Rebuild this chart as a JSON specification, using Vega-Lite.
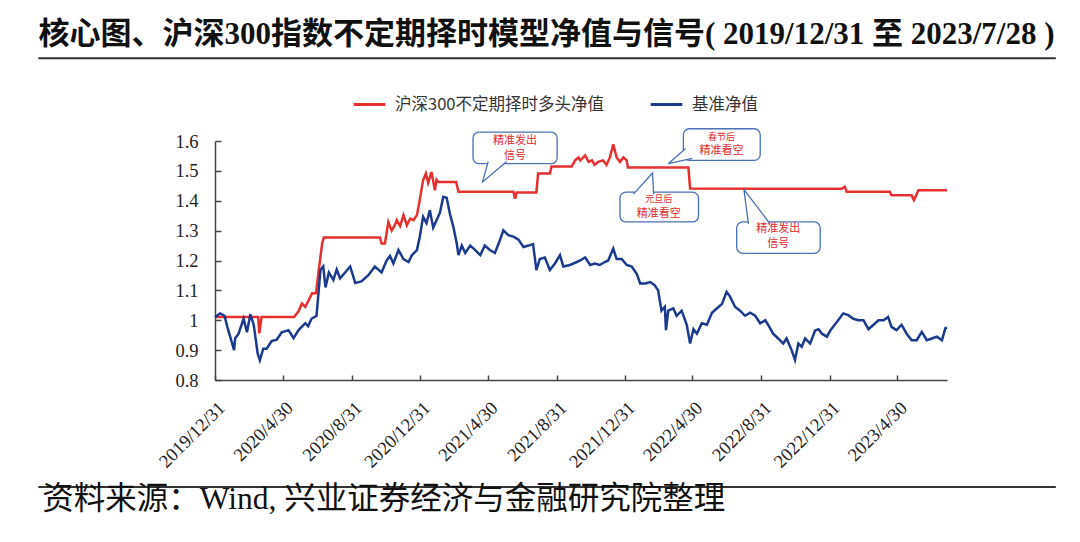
{
  "$schema": "https://vega.github.io/schema/vega-lite/v6.json",
  "width": 732,
  "height": 239,
  "autosize": {"type": "none"},
  "padding": {"left": 215, "top": 141, "right": 133, "bottom": 162},
  "background": "white",
  "config": {
    "view": {"stroke": null},
    "font": "Liberation Serif",
    "axisY": {"tickCount": 9, "labelOverlap": false, "format": "~g", "labelFont": "Liberation Serif", "labelFontSize": 18.5, "labelColor": "#222", "labelPadding": 23, "domainColor": "#444", "domainWidth": 1.5, "tickColor": "#444", "tickWidth": 1.5, "tickSize": -6, "grid": false, "title": null},
    "axisX": {"labelOverlap": false, "labelFont": "Liberation Serif", "labelFontSize": 18.5, "labelColor": "#222", "labelPadding": 23, "labelAngle": -45, "labelFlush": false, "domainColor": "#444", "domainWidth": 1.5, "tickColor": "#444", "tickWidth": 1.5, "tickSize": -5, "grid": false, "title": null}
  },
  "datasets": {
    "lines": [
      {"s":"m","d":"2019-12-31","v":1.011},{"s":"m","d":"2020-03-17","v":1.011},{"s":"m","d":"2020-03-19","v":0.956},{"s":"m","d":"2020-03-23","v":1.011},{"s":"m","d":"2020-05-20","v":1.011},{"s":"m","d":"2020-05-28","v":1.03},{"s":"m","d":"2020-06-03","v":1.056},{"s":"m","d":"2020-06-09","v":1.045},{"s":"m","d":"2020-06-15","v":1.067},{"s":"m","d":"2020-06-21","v":1.09},{"s":"m","d":"2020-06-28","v":1.09},{"s":"m","d":"2020-07-03","v":1.168},{"s":"m","d":"2020-07-09","v":1.257},{"s":"m","d":"2020-07-12","v":1.277},{"s":"m","d":"2020-10-20","v":1.277},{"s":"m","d":"2020-10-23","v":1.257},{"s":"m","d":"2020-10-29","v":1.257},{"s":"m","d":"2020-11-04","v":1.329},{"s":"m","d":"2020-11-10","v":1.30},{"s":"m","d":"2020-11-16","v":1.32},{"s":"m","d":"2020-11-19","v":1.335},{"s":"m","d":"2020-11-25","v":1.315},{"s":"m","d":"2020-12-01","v":1.352},{"s":"m","d":"2020-12-07","v":1.318},{"s":"m","d":"2020-12-13","v":1.34},{"s":"m","d":"2020-12-19","v":1.335},{"s":"m","d":"2020-12-25","v":1.352},{"s":"m","d":"2020-12-30","v":1.402},{"s":"m","d":"2021-01-05","v":1.469},{"s":"m","d":"2021-01-10","v":1.491},{"s":"m","d":"2021-01-14","v":1.46},{"s":"m","d":"2021-01-20","v":1.496},{"s":"m","d":"2021-01-26","v":1.435},{"s":"m","d":"2021-01-29","v":1.47},{"s":"m","d":"2021-02-01","v":1.463},{"s":"m","d":"2021-03-05","v":1.463},{"s":"m","d":"2021-03-09","v":1.43},{"s":"m","d":"2021-06-15","v":1.43},{"s":"m","d":"2021-06-18","v":1.407},{"s":"m","d":"2021-06-21","v":1.428},{"s":"m","d":"2021-07-26","v":1.428},{"s":"m","d":"2021-07-29","v":1.491},{"s":"m","d":"2021-08-19","v":1.491},{"s":"m","d":"2021-08-22","v":1.515},{"s":"m","d":"2021-09-27","v":1.515},{"s":"m","d":"2021-10-03","v":1.535},{"s":"m","d":"2021-10-09","v":1.545},{"s":"m","d":"2021-10-12","v":1.535},{"s":"m","d":"2021-10-15","v":1.54},{"s":"m","d":"2021-10-21","v":1.552},{"s":"m","d":"2021-10-27","v":1.53},{"s":"m","d":"2021-11-02","v":1.535},{"s":"m","d":"2021-11-07","v":1.52},{"s":"m","d":"2021-11-13","v":1.53},{"s":"m","d":"2021-11-22","v":1.535},{"s":"m","d":"2021-11-28","v":1.52},{"s":"m","d":"2021-12-04","v":1.545},{"s":"m","d":"2021-12-10","v":1.589},{"s":"m","d":"2021-12-16","v":1.545},{"s":"m","d":"2021-12-22","v":1.53},{"s":"m","d":"2021-12-28","v":1.545},{"s":"m","d":"2022-01-03","v":1.535},{"s":"m","d":"2022-01-05","v":1.511},{"s":"m","d":"2022-04-23","v":1.511},{"s":"m","d":"2022-04-26","v":1.441},{"s":"m","d":"2023-01-21","v":1.44},{"s":"m","d":"2023-01-27","v":1.447},{"s":"m","d":"2023-01-30","v":1.43},{"s":"m","d":"2023-04-17","v":1.43},{"s":"m","d":"2023-04-20","v":1.418},{"s":"m","d":"2023-05-26","v":1.418},{"s":"m","d":"2023-05-30","v":1.402},{"s":"m","d":"2023-06-03","v":1.418},{"s":"m","d":"2023-06-07","v":1.435},{"s":"m","d":"2023-07-28","v":1.435},
      {"s":"b","d":"2019-12-31","v":1.01},{"s":"b","d":"2020-01-09","v":1.023},{"s":"b","d":"2020-01-17","v":1.015},{"s":"b","d":"2020-01-22","v":0.978},{"s":"b","d":"2020-02-03","v":0.90},{"s":"b","d":"2020-02-05","v":0.94},{"s":"b","d":"2020-02-11","v":0.955},{"s":"b","d":"2020-02-20","v":1.005},{"s":"b","d":"2020-02-26","v":0.96},{"s":"b","d":"2020-03-03","v":1.02},{"s":"b","d":"2020-03-09","v":0.985},{"s":"b","d":"2020-03-16","v":0.89},{"s":"b","d":"2020-03-20","v":0.866},{"s":"b","d":"2020-03-26","v":0.905},{"s":"b","d":"2020-04-01","v":0.905},{"s":"b","d":"2020-04-10","v":0.93},{"s":"b","d":"2020-04-19","v":0.935},{"s":"b","d":"2020-04-28","v":0.96},{"s":"b","d":"2020-05-10","v":0.967},{"s":"b","d":"2020-05-19","v":0.94},{"s":"b","d":"2020-05-28","v":0.967},{"s":"b","d":"2020-06-09","v":0.99},{"s":"b","d":"2020-06-14","v":0.98},{"s":"b","d":"2020-06-20","v":1.005},{"s":"b","d":"2020-06-29","v":1.015},{"s":"b","d":"2020-07-06","v":1.168},{"s":"b","d":"2020-07-11","v":1.18},{"s":"b","d":"2020-07-15","v":1.11},{"s":"b","d":"2020-07-21","v":1.16},{"s":"b","d":"2020-07-29","v":1.135},{"s":"b","d":"2020-08-04","v":1.17},{"s":"b","d":"2020-08-10","v":1.14},{"s":"b","d":"2020-08-19","v":1.16},{"s":"b","d":"2020-08-28","v":1.18},{"s":"b","d":"2020-09-06","v":1.125},{"s":"b","d":"2020-09-17","v":1.13},{"s":"b","d":"2020-09-29","v":1.15},{"s":"b","d":"2020-10-11","v":1.18},{"s":"b","d":"2020-10-23","v":1.16},{"s":"b","d":"2020-11-01","v":1.20},{"s":"b","d":"2020-11-07","v":1.215},{"s":"b","d":"2020-11-13","v":1.19},{"s":"b","d":"2020-11-22","v":1.235},{"s":"b","d":"2020-12-01","v":1.205},{"s":"b","d":"2020-12-10","v":1.195},{"s":"b","d":"2020-12-16","v":1.218},{"s":"b","d":"2020-12-25","v":1.235},{"s":"b","d":"2020-12-30","v":1.279},{"s":"b","d":"2021-01-05","v":1.346},{"s":"b","d":"2021-01-11","v":1.325},{"s":"b","d":"2021-01-17","v":1.368},{"s":"b","d":"2021-01-23","v":1.31},{"s":"b","d":"2021-01-29","v":1.335},{"s":"b","d":"2021-02-04","v":1.36},{"s":"b","d":"2021-02-10","v":1.413},{"s":"b","d":"2021-02-16","v":1.41},{"s":"b","d":"2021-02-22","v":1.355},{"s":"b","d":"2021-02-28","v":1.312},{"s":"b","d":"2021-03-06","v":1.257},{"s":"b","d":"2021-03-09","v":1.218},{"s":"b","d":"2021-03-15","v":1.25},{"s":"b","d":"2021-03-21","v":1.225},{"s":"b","d":"2021-03-30","v":1.25},{"s":"b","d":"2021-04-08","v":1.235},{"s":"b","d":"2021-04-17","v":1.218},{"s":"b","d":"2021-04-25","v":1.25},{"s":"b","d":"2021-05-04","v":1.235},{"s":"b","d":"2021-05-13","v":1.225},{"s":"b","d":"2021-05-22","v":1.268},{"s":"b","d":"2021-05-28","v":1.301},{"s":"b","d":"2021-06-06","v":1.285},{"s":"b","d":"2021-06-15","v":1.28},{"s":"b","d":"2021-06-24","v":1.27},{"s":"b","d":"2021-07-03","v":1.245},{"s":"b","d":"2021-07-12","v":1.25},{"s":"b","d":"2021-07-20","v":1.255},{"s":"b","d":"2021-07-26","v":1.168},{"s":"b","d":"2021-08-01","v":1.205},{"s":"b","d":"2021-08-10","v":1.21},{"s":"b","d":"2021-08-19","v":1.168},{"s":"b","d":"2021-08-28","v":1.19},{"s":"b","d":"2021-09-06","v":1.218},{"s":"b","d":"2021-09-12","v":1.18},{"s":"b","d":"2021-09-24","v":1.185},{"s":"b","d":"2021-10-06","v":1.195},{"s":"b","d":"2021-10-12","v":1.2},{"s":"b","d":"2021-10-21","v":1.21},{"s":"b","d":"2021-10-30","v":1.185},{"s":"b","d":"2021-11-07","v":1.19},{"s":"b","d":"2021-11-16","v":1.185},{"s":"b","d":"2021-11-25","v":1.195},{"s":"b","d":"2021-12-01","v":1.2},{"s":"b","d":"2021-12-10","v":1.24},{"s":"b","d":"2021-12-16","v":1.205},{"s":"b","d":"2021-12-25","v":1.205},{"s":"b","d":"2022-01-03","v":1.185},{"s":"b","d":"2022-01-12","v":1.18},{"s":"b","d":"2022-01-21","v":1.155},{"s":"b","d":"2022-01-27","v":1.123},{"s":"b","d":"2022-02-05","v":1.123},{"s":"b","d":"2022-02-14","v":1.128},{"s":"b","d":"2022-02-22","v":1.117},{"s":"b","d":"2022-02-28","v":1.1},{"s":"b","d":"2022-03-06","v":1.032},{"s":"b","d":"2022-03-12","v":1.045},{"s":"b","d":"2022-03-14","v":0.967},{"s":"b","d":"2022-03-18","v":1.032},{"s":"b","d":"2022-03-27","v":1.04},{"s":"b","d":"2022-04-02","v":1.015},{"s":"b","d":"2022-04-11","v":1.032},{"s":"b","d":"2022-04-20","v":0.985},{"s":"b","d":"2022-04-26","v":0.922},{"s":"b","d":"2022-05-02","v":0.97},{"s":"b","d":"2022-05-08","v":0.955},{"s":"b","d":"2022-05-17","v":0.99},{"s":"b","d":"2022-05-26","v":0.985},{"s":"b","d":"2022-06-04","v":1.025},{"s":"b","d":"2022-06-13","v":1.04},{"s":"b","d":"2022-06-22","v":1.055},{"s":"b","d":"2022-06-30","v":1.095},{"s":"b","d":"2022-07-06","v":1.08},{"s":"b","d":"2022-07-15","v":1.045},{"s":"b","d":"2022-07-24","v":1.032},{"s":"b","d":"2022-08-02","v":1.015},{"s":"b","d":"2022-08-11","v":1.025},{"s":"b","d":"2022-08-20","v":1.015},{"s":"b","d":"2022-08-29","v":0.99},{"s":"b","d":"2022-09-07","v":1.0},{"s":"b","d":"2022-09-12","v":0.985},{"s":"b","d":"2022-09-21","v":0.955},{"s":"b","d":"2022-09-30","v":0.939},{"s":"b","d":"2022-10-09","v":0.922},{"s":"b","d":"2022-10-15","v":0.939},{"s":"b","d":"2022-10-24","v":0.90},{"s":"b","d":"2022-10-30","v":0.867},{"s":"b","d":"2022-11-05","v":0.922},{"s":"b","d":"2022-11-11","v":0.911},{"s":"b","d":"2022-11-17","v":0.939},{"s":"b","d":"2022-11-26","v":0.922},{"s":"b","d":"2022-12-05","v":0.966},{"s":"b","d":"2022-12-11","v":0.97},{"s":"b","d":"2022-12-17","v":0.955},{"s":"b","d":"2022-12-26","v":0.945},{"s":"b","d":"2023-01-01","v":0.966},{"s":"b","d":"2023-01-06","v":0.978},{"s":"b","d":"2023-01-15","v":1.0},{"s":"b","d":"2023-01-24","v":1.023},{"s":"b","d":"2023-02-02","v":1.017},{"s":"b","d":"2023-02-11","v":1.005},{"s":"b","d":"2023-02-20","v":1.0},{"s":"b","d":"2023-03-01","v":1.0},{"s":"b","d":"2023-03-10","v":0.97},{"s":"b","d":"2023-03-19","v":0.985},{"s":"b","d":"2023-03-28","v":1.0},{"s":"b","d":"2023-04-06","v":1.0},{"s":"b","d":"2023-04-14","v":1.011},{"s":"b","d":"2023-04-20","v":0.978},{"s":"b","d":"2023-04-29","v":0.967},{"s":"b","d":"2023-05-08","v":0.985},{"s":"b","d":"2023-05-17","v":0.955},{"s":"b","d":"2023-05-26","v":0.933},{"s":"b","d":"2023-06-04","v":0.933},{"s":"b","d":"2023-06-13","v":0.961},{"s":"b","d":"2023-06-22","v":0.933},{"s":"b","d":"2023-07-01","v":0.939},{"s":"b","d":"2023-07-10","v":0.945},{"s":"b","d":"2023-07-19","v":0.933},{"s":"b","d":"2023-07-25","v":0.973},{"s":"b","d":"2023-07-28","v":0.975}
    ],
    "boxes": [
      {"x1":"2021-04-04","x2":"2021-09-01","y1":1.524,"y2":1.630},
      {"x1":"2022-04-14","x2":"2022-08-29","y1":1.535,"y2":1.641},
      {"x1":"2021-12-22","x2":"2022-05-11","y1":1.329,"y2":1.429},
      {"x1":"2022-07-18","x2":"2022-12-14","y1":1.224,"y2":1.329}
    ],
    "ptr": [
      {"g":1,"o":1,"d":"2021-05-01","v":1.531},{"g":1,"o":2,"d":"2021-04-21","v":1.463},{"g":1,"o":3,"d":"2021-06-03","v":1.531},
      {"g":2,"o":1,"d":"2022-04-18","v":1.575},{"g":2,"o":2,"d":"2022-03-18","v":1.524},{"g":2,"o":3,"d":"2022-04-30","v":1.542},
      {"g":3,"o":1,"d":"2022-01-15","v":1.422},{"g":3,"o":2,"d":"2022-02-18","v":1.493},{"g":3,"o":3,"d":"2022-02-20","v":1.422},
      {"g":4,"o":1,"d":"2022-08-08","v":1.322},{"g":4,"o":2,"d":"2022-07-31","v":1.4375},{"g":4,"o":3,"d":"2022-09-16","v":1.322}
    ],
    "notes": [
      {"b":1,"l":1,"d":"2021-06-18","v":1.599,"t":"精准发出"},
      {"b":1,"l":2,"d":"2021-06-18","v":1.549,"t":"信号"},
      {"b":2,"l":1,"d":"2022-06-21","v":1.613,"t":"春节后"},
      {"b":2,"l":2,"d":"2022-06-21","v":1.566,"t":"精准看空"},
      {"b":3,"l":1,"d":"2022-03-01","v":1.405,"t":"元旦后"},
      {"b":3,"l":2,"d":"2022-03-01","v":1.355,"t":"精准看空"},
      {"b":4,"l":1,"d":"2022-09-30","v":1.305,"t":"精准发出"},
      {"b":4,"l":2,"d":"2022-09-30","v":1.255,"t":"信号"}
    ]
  },
  "layer": [
    {
      "data": {"name": "lines"},
      "mark": {"type": "line", "strokeWidth": 2.5},
      "encoding": {
        "x": {
          "field": "d", "type": "temporal",
          "scale": {"type": "utc", "domain": [{"year":2019,"month":12,"date":31,"utc":true},{"year":2023,"month":7,"date":28,"utc":true}]},
          "axis": {
            "title": null,
            "values": [
              {"year":2019,"month":12,"date":31,"utc":true},{"year":2020,"month":4,"date":30,"utc":true},{"year":2020,"month":8,"date":31,"utc":true},
              {"year":2020,"month":12,"date":31,"utc":true},{"year":2021,"month":4,"date":30,"utc":true},{"year":2021,"month":8,"date":31,"utc":true},
              {"year":2021,"month":12,"date":31,"utc":true},{"year":2022,"month":4,"date":30,"utc":true},{"year":2022,"month":8,"date":31,"utc":true},
              {"year":2022,"month":12,"date":31,"utc":true},{"year":2023,"month":4,"date":30,"utc":true}
            ],
            "format": "%Y/%-m/%-d",
            "labelAngle": -45,
            "labelOverlap": false
          }
        },
        "y": {
          "field": "v", "type": "quantitative",
          "scale": {"domain": [0.8, 1.6], "nice": false, "zero": false},
          "axis": {
            "title": null,
            "values": [0.8, 0.9, 1.0, 1.1, 1.2, 1.3, 1.4, 1.5, 1.6],
            "tickCount": 9,
            "format": "~g",
            "labelOverlap": false
          }
        },
        "color": {
          "field": "s", "type": "nominal",
          "scale": {"domain": ["m", "b"], "range": ["#e5302f", "#1b3a8e"]},
          "legend": {
            "title": null,
            "orient": "none",
            "legendX": 137,
            "legendY": -54,
            "direction": "horizontal",
            "symbolType": "stroke",
            "symbolSize": 1000,
            "symbolStrokeWidth": 3,
            "labelFont": "Noto Sans CJK SC",
            "labelFontSize": 16.5,
            "labelColor": "#333",
            "labelOffset": 8,
            "labelLimit": 400,
            "columnPadding": 40,
            "labelExpr": "datum.value == 'm' ? '沪深300不定期择时多头净值' : '基准净值'"
          }
        }
      }
    },
    {
      "data": {"name": "boxes"},
      "mark": {"type": "rect", "fill": "white", "stroke": "#4a70b6", "strokeWidth": 1.3, "cornerRadius": 6},
      "encoding": {
        "x": {"field": "x1", "type": "temporal"},
        "x2": {"field": "x2"},
        "y": {"field": "y1", "type": "quantitative"},
        "y2": {"field": "y2"}
      }
    },
    {
      "data": {"name": "ptr"},
      "mark": {"type": "line", "fill": "white", "stroke": "#4a70b6", "strokeWidth": 1.3},
      "encoding": {
        "x": {"field": "d", "type": "temporal"},
        "y": {"field": "v", "type": "quantitative"},
        "detail": {"field": "g", "type": "nominal"},
        "order": {"field": "o", "type": "quantitative"}
      }
    },
    {
      "data": {"name": "notes"},
      "mark": {"type": "text", "font": "Noto Sans CJK SC", "color": "#e02b2b", "align": "center", "baseline": "middle"},
      "encoding": {
        "x": {"field": "d", "type": "temporal"},
        "y": {"field": "v", "type": "quantitative"},
        "text": {"field": "t"},
        "size": {"condition": {"test": "(datum.b == 2 || datum.b == 3) && datum.l == 1", "value": 9}, "value": 11}
      }
    },
    {
      "data": {"values": [{}]},
      "mark": {"type": "text", "text": "核心图、沪深300指数不定期择时模型净值与信号( 2019/12/31 至 2023/7/28 )", "font": "Liberation Serif, Noto Sans CJK SC", "fontSize": 31, "fontWeight": "bold", "align": "center", "baseline": "middle", "color": "#111"},
      "encoding": {
        "x": {"datum": {"year":2021,"month":8,"date":13,"utc":true}, "type": "temporal"},
        "y": {"datum": 1.9535, "type": "quantitative"}
      }
    },
    {
      "data": {"values": [{}]},
      "mark": {"type": "rule", "color": "#333", "strokeWidth": 2},
      "encoding": {
        "x": {"datum": {"year":2019,"month":2,"date":19,"utc":true}, "type": "temporal"},
        "x2": {"datum": {"year":2024,"month":2,"date":7,"utc":true}},
        "y": {"datum": 1.8766, "type": "quantitative"}
      }
    },
    {
      "data": {"values": [{}]},
      "mark": {"type": "rule", "color": "#333", "strokeWidth": 2},
      "encoding": {
        "x": {"datum": {"year":2019,"month":2,"date":19,"utc":true}, "type": "temporal"},
        "x2": {"datum": {"year":2024,"month":2,"date":7,"utc":true}},
        "y": {"datum": 0.4418, "type": "quantitative"}
      }
    },
    {
      "data": {"values": [{}]},
      "mark": {"type": "text", "text": "资料来源：Wind, 兴业证券经济与金融研究院整理", "font": "Liberation Serif, Noto Sans CJK SC", "fontSize": 31.5, "align": "left", "baseline": "middle", "color": "#111"},
      "encoding": {
        "x": {"datum": {"year":2019,"month":2,"date":26,"utc":true}, "type": "temporal"},
        "y": {"datum": 0.3983, "type": "quantitative"}
      }
    }
  ]
}
